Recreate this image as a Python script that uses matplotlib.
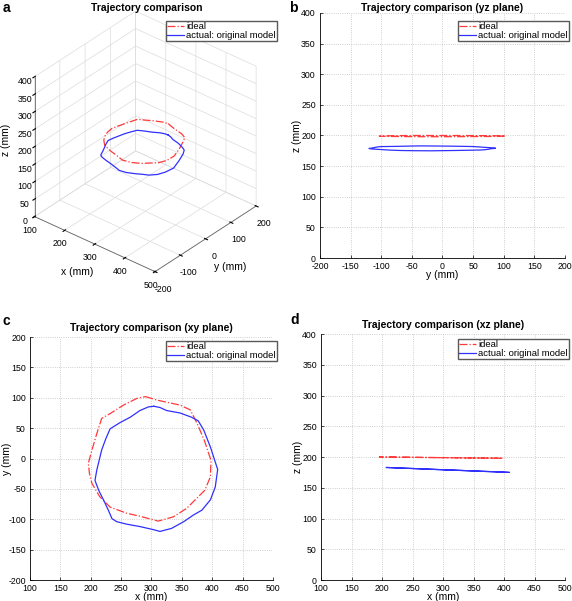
import matplotlib
matplotlib.use("Agg")
import matplotlib.pyplot as plt
import numpy as np

plt.rcParams['font.family'] = ['Liberation Sans', 'DejaVu Sans']
plt.rcParams['axes.unicode_minus'] = False

ideal_x = [290, 310, 347, 364, 375, 387, 398, 397, 388, 372, 358, 336, 311, 281,
           259, 232, 215, 202, 198, 196, 202, 210, 218, 232, 254, 276]
ideal_y = [102, 96, 88, 80, 58, 30, -3, -30, -52, -68, -82, -96, -103, -95,
           -90, -80, -63, -41, -25, -8, 14, 41, 66, 74, 88, 99]
ideal_z = [199.1, 198.9, 198.5, 198.4, 198.3, 198.1, 198.0, 198.0, 198.1, 198.3,
           198.4, 198.6, 198.9, 199.2, 199.4, 199.7, 199.9, 200.0, 200.0, 200.0,
           200.0, 199.9, 199.8, 199.7, 199.5, 199.2]

# actual trajectory: original model
act_x = [304, 314, 325, 347, 366, 377, 386, 397, 409, 405, 397, 383, 369, 353,
         333, 314, 303, 281, 259, 243, 235, 229, 221, 213, 207, 210, 218, 225,
         232, 248, 265, 281, 295]
act_y = [86, 84, 79, 75, 68, 62, 47, 19, -18, -47, -68, -85, -93, -104,
         -115, -120, -117, -112, -108, -104, -99, -85, -68, -52, -36, -19, 14, 33,
         49, 59, 68, 79, 85]
act_z = [179.2, 178.8, 178.4, 177.5, 176.7, 176.3, 176.0, 175.5, 175.0, 175.2,
         175.5, 176.1, 176.6, 177.3, 178.0, 178.8, 179.2, 180.1, 181.0, 181.6,
         181.9, 182.1, 182.4, 182.8, 183.0, 182.9, 182.6, 182.3, 182.0, 181.4,
         180.7, 180.1, 179.5]

labels = ['ideal', 'actual: original model']
RED = '#ff3a3a'
BLUE = '#3030ff'

def closed(v):
    return np.r_[v, v[:1]]

ix, iy, iz = closed(ideal_x), closed(ideal_y), closed(ideal_z)
ax_, ay_, az_ = closed(act_x), closed(act_y), closed(act_z)

fig = plt.figure(figsize=(5.72, 6.01), dpi=100)

def legend(ax, anchor):
    ax.legend(labels, loc='upper right', bbox_to_anchor=anchor,
              bbox_transform=fig.transFigure, fontsize=6.8, fancybox=False,
              edgecolor='0.35', framealpha=1, borderpad=0.12, handlelength=1.8,
              handletextpad=0.25, labelspacing=0.0, borderaxespad=0)

def style2d(ax, xlim, ylim, xlabel, ylabel, title, tpad):
    ax.set_xlim(*xlim); ax.set_ylim(*ylim)
    ax.set_xticks(np.arange(xlim[0], xlim[1] + 1, 50))
    ax.set_yticks(np.arange(ylim[0], ylim[1] + 1, 50))
    ax.grid(True, ls=':', color='#c0c0c0', lw=0.6)
    ax.spines['top'].set_visible(False); ax.spines['right'].set_visible(False)
    for s in ('left', 'bottom'):
        ax.spines[s].set_linewidth(0.6)
    ax.tick_params(direction='in', length=2.5, width=0.5, labelsize=6.3)
    ax.tick_params(axis='x', pad=3.2)
    ax.tick_params(axis='y', pad=3)
    ax.set_xlabel(xlabel, fontsize=7.5, labelpad=-1)
    ax.set_ylabel(ylabel, fontsize=7.5)
    ax.yaxis.set_label_coords(-0.075, 0.5)
    ax.set_title(title, fontsize=7.5, fontweight='bold', pad=tpad)

# a) 3D view (drawn first so the flat panels sit on top)
axa = fig.add_axes([-0.023, 0.508, 0.54, 0.5], projection='3d', proj_type='ortho')
axa.patch.set_visible(False)
axa.plot(ix, iy, iz, '-.', color=RED, lw=0.9)
axa.plot(ax_, ay_, az_, '-', color=BLUE, lw=0.9)
axa.set_xlim(100, 500); axa.set_ylim(-200, 200); axa.set_zlim(0, 400)
axa.set_xticks(np.arange(100, 501, 100))
axa.set_yticks(np.arange(-200, 201, 100))
axa.set_zticks(np.arange(0, 401, 50))
axa.set_box_aspect((1, 1, 1.06), zoom=0.898)
axa.view_init(elev=33, azim=-50)
axa.zaxis.set_ticks_position('lower')
for a in (axa.xaxis, axa.yaxis, axa.zaxis):
    a.set_pane_color((1, 1, 1, 0))
    a.pane.set_edgecolor('#d8d8d8')
    a._axinfo['grid'].update(color='#dcdcdc', linewidth=0.5)
    a.line.set_color('0.4'); a.line.set_linewidth(0.6)
axa.tick_params(labelsize=6.3, pad=-3)
axa.tick_params(axis='y', pad=-0.5)
fig.text(0.1346, 0.5474, 'x (mm)', fontsize=7.5, ha='center', va='center')
fig.text(0.402, 0.5557, 'y (mm)', fontsize=7.5, ha='center', va='center')
fig.text(0.0105, 0.767, 'z (mm)', fontsize=7.5, ha='center', va='center',
         rotation=90)
fig.text(0.257, 0.9875, 'Trajectory comparison', fontsize=7.5, fontweight='bold',
         ha='center', va='center')
legend(axa, (0.4843, 0.965))

# b) yz plane
axb = fig.add_axes([0.5594, 0.5707, 0.4283, 0.4077])
axb.plot(iy, iz, '-.', color=RED, lw=0.9)
axb.plot(ay_, az_, '-', color=BLUE, lw=0.9)
style2d(axb, (-200, 200), (0, 400), 'y (mm)', 'z (mm)',
        'Trajectory comparison (yz plane)', 1.5)
legend(axb, (0.9948, 0.965))

# c) xy plane
axc = fig.add_axes([0.0524, 0.0349, 0.4248, 0.4043])
axc.plot(ix, iy, '-.', color=RED, lw=0.9)
axc.plot(ax_, ay_, '-', color=BLUE, lw=0.9)
style2d(axc, (100, 500), (-200, 200), 'x (mm)', 'y (mm)',
        'Trajectory comparison (xy plane)', 4)
legend(axc, (0.4843, 0.4331))

# d) xz plane
axd = fig.add_axes([0.5612, 0.0349, 0.4266, 0.4093])
axd.plot(ix, iz, '-.', color=RED, lw=0.9)
axd.plot(ax_, az_, '-', color=BLUE, lw=0.9)
style2d(axd, (100, 500), (0, 400), 'x (mm)', 'z (mm)',
        'Trajectory comparison (xz plane)', 4)
legend(axd, (0.9942, 0.4359))

# panel letters
for s, x, y in [('a', 0.005, 0.998), ('b', 0.505, 0.998), ('c', 0.005, 0.478), ('d', 0.507, 0.479)]:
    fig.text(x, y, s, fontsize=10, fontweight='bold', ha='left', va='top')

fig.savefig('out.png', dpi=100)
